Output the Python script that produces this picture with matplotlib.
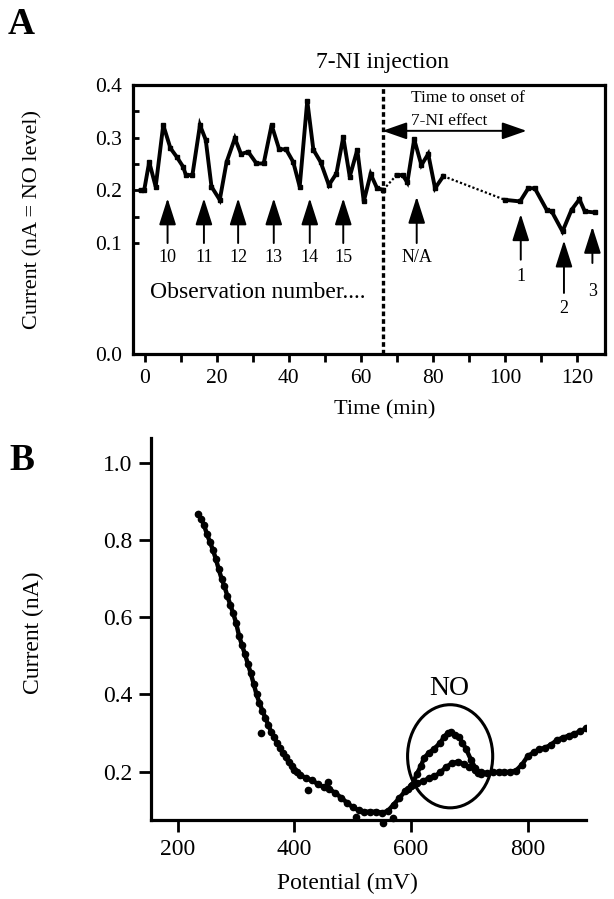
import numpy as np
import matplotlib
matplotlib.use('Agg')
import matplotlib.pyplot as plt
from matplotlib.patches import Ellipse

plt.rcParams['font.family'] = ['Liberation Serif', 'DejaVu Serif']

# ---- panel A data: current (nA) vs time (min), three pieces
a_t1 = [-1.2, -0.2, 1.2, 3.0, 5.1, 7.1, 8.8, 10.6, 11.4, 13.2, 15.3, 16.9, 18.5,
        20.8, 22.7, 25.0, 26.7, 28.7, 31.0, 33.0, 35.2, 37.3, 39.2, 41.2, 43.0,
        45.1, 46.8, 48.8, 51.1, 53.2, 55.1, 56.9, 59.0, 60.8, 62.7, 64.5, 66.2]
a_v1 = [0.200, 0.200, 0.254, 0.207, 0.324, 0.280, 0.264, 0.245, 0.229, 0.229,
        0.324, 0.296, 0.207, 0.182, 0.254, 0.299, 0.269, 0.273, 0.251, 0.251,
        0.324, 0.278, 0.278, 0.254, 0.207, 0.370, 0.277, 0.254, 0.210, 0.232,
        0.301, 0.226, 0.277, 0.179, 0.231, 0.204, 0.201]
a_t2 = [69.9, 71.6, 72.9, 74.8, 76.8, 78.7, 80.6, 82.9]
a_v2 = [0.229, 0.229, 0.215, 0.297, 0.248, 0.269, 0.204, 0.227]
a_t3 = [100.0, 104.2, 106.5, 108.3, 111.6, 113.0, 116.0, 118.5, 120.7, 122.2, 125.0]
a_v3 = [0.182, 0.179, 0.204, 0.204, 0.163, 0.160, 0.122, 0.163, 0.183, 0.160, 0.158]

injection_time = 66
onset_end = 106

# observation arrows: x, tip, tail, label y, label
obs_x = [6.3, 16.4, 25.9, 35.8, 45.8, 55.1, 75.5, 104.4, 116.4, 124.3]
obs_tip = [0.185, 0.185, 0.185, 0.185, 0.185, 0.185, 0.188, 0.155, 0.105, 0.131]
obs_tail = [0.100, 0.100, 0.100, 0.100, 0.100, 0.100, 0.100, 0.085, 0.055, 0.082]
obs_lab_y = [0.087, 0.087, 0.087, 0.087, 0.087, 0.087, 0.087, 0.070, 0.041, 0.056]
obs_labels = ['10', '11', '12', '13', '14', '15', 'N/A', '1', '2', '3']

a_yticks = [0.0, 0.1, 0.2, 0.3, 0.4]
a_yticklabels = ['0.0', '0.1', '0.2', '0.3', '0.4']

# ---- panel B data: voltammogram, current (nA) vs potential (mV)
b_mv = [235, 240, 245, 250, 255, 260, 265, 270, 275, 280, 285, 290, 295, 300,
        305, 310, 315, 320, 325, 330, 335, 340, 345, 350, 355, 360, 365, 370,
        375, 380, 385, 390, 395, 400, 405, 410, 420, 430, 440, 450, 460, 470,
        480, 490, 500, 510, 520, 530, 540, 550, 560, 570, 580, 590, 600, 610,
        620, 630, 640, 650, 660, 670, 680, 690, 700, 710, 720, 730, 740, 750,
        760, 770, 780, 790, 800, 810, 820, 830, 840, 850, 860, 870, 880, 890, 900]
b_na = [0.868, 0.855, 0.838, 0.815, 0.795, 0.775, 0.752, 0.725, 0.700, 0.680,
        0.655, 0.632, 0.610, 0.585, 0.552, 0.528, 0.505, 0.480, 0.455, 0.428,
        0.400, 0.378, 0.358, 0.340, 0.322, 0.303, 0.290, 0.275, 0.262, 0.248,
        0.238, 0.225, 0.215, 0.205, 0.198, 0.192, 0.183, 0.178, 0.168, 0.160,
        0.155, 0.145, 0.133, 0.120, 0.108, 0.100, 0.097, 0.096, 0.097, 0.094,
        0.098, 0.115, 0.132, 0.150, 0.162, 0.170, 0.175, 0.183, 0.188, 0.198,
        0.212, 0.222, 0.226, 0.220, 0.212, 0.205, 0.200, 0.196, 0.198, 0.200,
        0.199, 0.200, 0.203, 0.218, 0.240, 0.250, 0.258, 0.262, 0.270, 0.282,
        0.288, 0.293, 0.298, 0.305, 0.312]
no_mv = [595, 602, 610, 617, 622, 630, 640, 650, 657, 663, 668, 675, 682, 688,
         694, 703, 710, 714, 720]
no_na = [0.155, 0.165, 0.195, 0.215, 0.235, 0.248, 0.260, 0.275, 0.291, 0.300,
         0.304, 0.295, 0.291, 0.275, 0.260, 0.230, 0.210, 0.196, 0.195]
out_mv = [343, 424, 457, 505, 552, 569]
out_na = [0.300, 0.153, 0.174, 0.083, 0.066, 0.079]


def fwd(y):
    y = np.asarray(y, dtype=float)
    return np.where(y < 0.1, y * 1110.0, 111.0 + (y - 0.1) * 527.0)


def inv(z):
    z = np.asarray(z, dtype=float)
    return np.where(z < 111.0, z / 1110.0, 0.1 + (z - 111.0) / 527.0)


fig = plt.figure(figsize=(6.14, 8.99), dpi=100)

# ================= panel A =================
ax = fig.add_axes([133 / 614, 1 - 354 / 899, 472 / 614, 269 / 899])
ax.set_yscale('function', functions=(fwd, inv))
ax.set_xlim(-3.3, 127.8)
ax.set_ylim(0.0, 0.4)

kw = dict(color='black', lw=2.8, marker='s', ms=2.8, solid_joinstyle='miter')
ax.plot(a_t1, a_v1, **kw)
ax.plot(a_t2, a_v2, **kw)
ax.plot(a_t3, a_v3, **kw)
ax.plot([a_t1[-1], a_t2[0]], [a_v1[-1], a_v2[0]], color='black', lw=1.6, dashes=(1, 1))
ax.plot([a_t2[-1], a_t3[0]], [a_v2[-1], a_v3[0]], color='black', lw=1.6, dashes=(1, 1))

ax.axvline(injection_time, color='black', lw=2.4, dashes=(1.4, 0.9))

for x, tip, tail, ly, lab in zip(obs_x, obs_tip, obs_tail, obs_lab_y, obs_labels):
    ax.annotate('', xy=(x, tip), xytext=(x, tail),
                arrowprops=dict(arrowstyle='-|>,head_length=1.1,head_width=0.35',
                                mutation_scale=15, lw=1.4, color='black',
                                shrinkA=0, shrinkB=0))
    ax.text(x, ly, lab, ha='center', va='center', fontsize=13)

ax.text(1.5, 0.055, 'Observation number....', ha='left', va='center', fontsize=17)

ax.annotate('', xy=(injection_time, 0.313), xytext=(onset_end, 0.313),
            arrowprops=dict(arrowstyle='<|-|>,head_length=1.0,head_width=0.35',
                            mutation_scale=15, lw=1.4, color='black',
                            shrinkA=0, shrinkB=0))
ax.text(74, 0.376, 'Time to onset of', ha='left', va='center', fontsize=12.5)
ax.text(74, 0.331, '7-NI effect', ha='left', va='center', fontsize=12.5)
ax.text(injection_time, 1.082, '7-NI injection', transform=ax.get_xaxis_transform(),
        ha='center', va='center', fontsize=17)

ax.set_yticks(a_yticks)
ax.set_yticklabels(a_yticklabels)
ax.set_yticks([0.15, 0.25, 0.35], minor=True)
ax.yaxis.set_minor_formatter(plt.NullFormatter())
ax.set_xticks(np.arange(0, 121, 20))
ax.set_xticks(np.arange(10, 121, 20), minor=True)
ax.tick_params(axis='y', which='both', direction='in', length=4, width=2, labelsize=15.5, pad=8)
ax.tick_params(axis='x', which='both', direction='out', length=6, width=2, labelsize=15.5, pad=5)
for s in ax.spines.values():
    s.set_linewidth(2.3)

ax.set_xlabel('Time (min)', fontsize=16)
ax.xaxis.set_label_coords((385 - 133) / 472, (354 - 410) / 269)
ax.xaxis.label.set_va('center')
ax.set_ylabel('Current (nA = NO level)', fontsize=16)
ax.yaxis.set_label_coords((33 - 133) / 472, 0.5)
ax.yaxis.label.set_va('center')

fig.text(21.6 / 614, 1 - 25 / 899, 'A', ha='center', va='center', fontsize=27, fontweight='bold')

# ================= panel B =================
bx = fig.add_axes([151 / 614, 1 - 820 / 899, 435 / 614, 382 / 899])
bx.set_xlim(154, 900)
bx.set_ylim(0.075, 1.064)
bx.plot(b_mv, b_na, color='black', lw=3.2, marker='o', ms=4.5)
bx.plot(no_mv, no_na, color='black', lw=3.2, marker='o', ms=4.5)
bx.plot(out_mv, out_na, ls='none', color='black', marker='o', ms=4.5, clip_on=False)

bx.add_patch(Ellipse((667, 0.24), 146, 0.267, fill=False, lw=2.2, edgecolor='black'))
bx.text(666, 0.416, 'NO', ha='center', va='center', fontsize=20)

bx.spines['top'].set_visible(False)
bx.spines['right'].set_visible(False)
bx.spines['left'].set_linewidth(2.3)
bx.spines['bottom'].set_linewidth(2.3)
bx.set_yticks([0.2, 0.4, 0.6, 0.8, 1.0])
bx.set_yticklabels(['0.2', '0.4', '0.6', '0.8', '1.0'])
bx.set_xticks([200, 400, 600, 800])
bx.tick_params(axis='both', direction='out', length=8.5, width=2, labelsize=17, pad=5)

bx.set_xlabel('Potential (mV)', fontsize=17)
bx.xaxis.set_label_coords((347 - 151) / 435, (820 - 883) / 382)
bx.xaxis.label.set_va('center')
bx.set_ylabel('Current (nA)', fontsize=17)
bx.yaxis.set_label_coords((33 - 151) / 435, 0.49)
bx.yaxis.label.set_va('center')

fig.text(21.6 / 614, 1 - 460 / 899, 'B', ha='center', va='center', fontsize=27, fontweight='bold')

fig.savefig('out.png', dpi=100)
